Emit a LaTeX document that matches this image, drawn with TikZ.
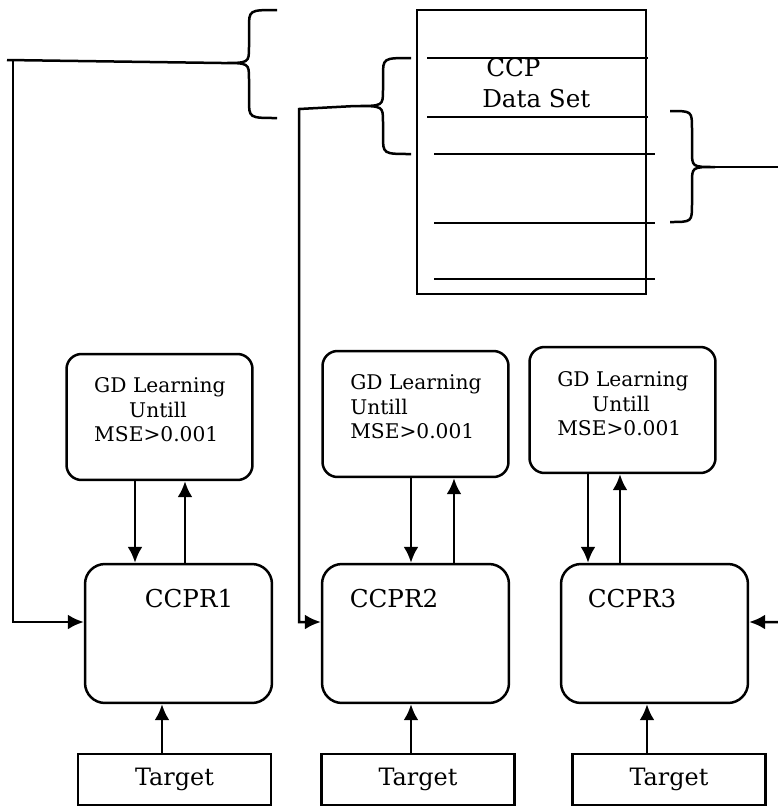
\documentclass[tikz,border=0pt]{standalone}
\usepackage{fontspec}
\setmainfont{DejaVu Serif}
\usetikzlibrary{arrows.meta}
\def\sidebrace(#1:#2:#3)(#4:#5:#6){\draw (#1,#4) .. controls (#2,#4) .. (#2,#4+18) -- (#2,#5-16) .. controls (#2,#5) .. (#3,#5) .. controls (#2,#5) .. (#2,#5+16) -- (#2,#6-18) .. controls (#2,#6) .. (#1,#6);}

\begin{document}
\begin{tikzpicture}[x=0.02cm, y=-0.02cm, line width=0.5mm,
		gdbox/.style={draw, rounded corners=0.3cm, minimum width=3.72cm, minimum height=2.52cm},
		ccprbox/.style={draw, rounded corners=0.4cm, minimum width=3.74cm, minimum height=2.78cm},
		targetbox/.style={draw, inner sep=0pt, minimum width=3.86cm, minimum height=1.02cm, font=\fontsize{13.6}{16}\selectfont},
		gdtext/.style={anchor=west, align=left, inner sep=0pt, font=\fontsize{11.5}{13.9}\selectfont},
		bigtext/.style={inner sep=0pt, font=\fontsize{14}{17.6}\selectfont},
		arr/.style={-{Latex[length=3.2mm,width=3mm]}}]
		%%%%% START %%%%%
		
		\useasboundingbox (0,0) rectangle (778,806);
		
		% data set
		\node[draw, minimum width=4.58cm, minimum height=5.68cm] (dataset) at (531.5,152) {};
		\foreach \xa/\ya in {427/58, 427/117, 434/154, 434/223, 434/279}
			\draw (\xa,\ya) -- ++(221,0);
		\node[bigtext, anchor=west, align=left] (dataname) at (481,83) {\hspace*{0.08cm}CCP\\Data Set};
		
		% braces
		\sidebrace(277:249:222)(10:63:118)
		\sidebrace(411:383:355)(58:106:154)
		\sidebrace(670:692:715)(111:167:222)
		\coordinate (topbrace) at (222,63);
		\coordinate (midbrace) at (355,106);
		\coordinate (rightbrace) at (715,167);
		
		% learning boxes
		\node[gdbox] (gd1) at (159.5,417) {};
		\node[gdbox] (gd2) at (415.5,414) {};
		\node[gdbox] (gd3) at (622.5,410) {};
		\node[gdtext] (gdtext1) at (93,410) {GD Learning\\\hspace*{0.7cm}Untill\\MSE>0.001};
		\node[gdtext] (gdtext2) at (349,407) {GD Learning\\Untill\\MSE>0.001};
		\node[gdtext] (gdtext3) at (556,404) {GD Learning\\\hspace*{0.7cm}Untill\\MSE>0.001};
		
		% recognizers
		\node[ccprbox] (ccpr1) at (178.5,633.5) {};
		\node[ccprbox] (ccpr2) at (415.5,633.5) {};
		\node[ccprbox] (ccpr3) at (654.5,633.5) {};
		\node[bigtext, anchor=base] (name1) at (189,607) {CCPR1};
		\node[bigtext, anchor=base] (name2) at (394,607) {CCPR2};
		\node[bigtext, anchor=base] (name3) at (632,607) {CCPR3};
		
		% targets
		\node[targetbox] (target1) at (174.5,779.5) {Target};
		\node[targetbox] (target2) at (418,779.5) {Target};
		\node[targetbox] (target3) at (669,779.5) {Target};
		
		% learning loops
		\draw[arr] ([xshift=-0.49cm]gd1.south) -- ([xshift=-0.49cm]gd1.south |- ccpr1.north);
		\draw[arr] ([xshift=0.51cm]gd1.south |- ccpr1.north) -- ([xshift=0.51cm]gd1.south);
		\draw[arr] ([xshift=-0.09cm]gd2.south) -- ([xshift=-0.09cm]gd2.south |- ccpr2.north);
		\draw[arr] ([xshift=0.77cm]gd2.south |- ccpr2.north) -- ([xshift=0.77cm]gd2.south);
		\draw[arr] ([xshift=-0.69cm]gd3.south) -- ([xshift=-0.69cm]gd3.south |- ccpr3.north);
		\draw[arr] ([xshift=-0.05cm]gd3.south |- ccpr3.north) -- ([xshift=-0.05cm]gd3.south);
		
		% targets in
		\draw[arr] ([xshift=-0.25cm]target1.north) -- ([xshift=-0.25cm]target1.north |- ccpr1.south);
		\draw[arr] ([xshift=-0.14cm]target2.north) -- ([xshift=-0.14cm]target2.north |- ccpr2.south);
		\draw[arr] ([xshift=-0.44cm]target3.north) -- ([xshift=-0.44cm]target3.north |- ccpr3.south);
		
		% data feeds
		\coordinate (tail1) at (7,60);
		\coordinate (feed1) at (13,60);
		\draw (topbrace) -- (tail1);
		\draw[arr] (feed1) |- ([yshift=0.23cm]ccpr1.west);
		\coordinate (feed2) at (299,109);
		\draw[arr] (midbrace) -- (feed2) |- ([yshift=0.23cm]ccpr2.west);
		\coordinate (feed3) at (778,167);
		\coordinate (feed4) at (778,622);
		\draw (rightbrace) -- (feed3);
		\draw[arr] (feed4) -- ([yshift=0.23cm]ccpr3.east);
		
		%%%%% END %%%%%
\end{tikzpicture}
\end{document}
